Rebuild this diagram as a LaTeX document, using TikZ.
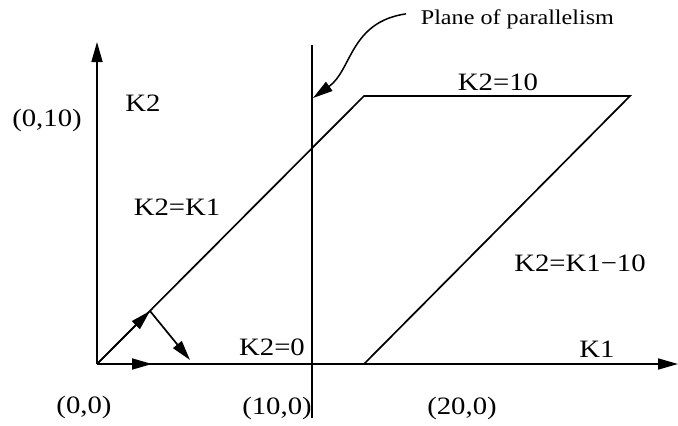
\documentclass[tikz,border=0pt]{standalone}
\usepackage{fontspec}
\setmainfont{Liberation Serif}[FakeStretch=1.15]
\usetikzlibrary{arrows.meta}

\begin{document}
\begin{tikzpicture}[x=1pt,y=-1pt,line width=1.7pt,
    axis/.style={-{Triangle[length=20pt,width=11pt]}},
    lbl/.style={anchor=base,inner sep=0pt,font=\fontsize{25}{30}\selectfont}]
  \useasboundingbox (0,0) rectangle (678,426);
  % corners of the feasible region
  \coordinate (O) at (97,364);
  \coordinate (ytip) at (97,42);
  \coordinate (xtip) at (678,364);
  \coordinate (topleft) at (364,96);
  \coordinate (topright) at (630,96);
  \coordinate (botright) at (364,364);
  \coordinate (vtop) at (312,45);
  \coordinate (vbot) at (312,418);
  \coordinate (hit) at (313,98);
  \coordinate (ex) at (152,364);
  \coordinate (ed) at (150,311);
  \coordinate (en) at (190,360);

  \draw[axis] (O) -- (ytip);
  \draw[axis] (O) -- (xtip);
  \draw (O) -- (topleft) -- (topright) -- (botright);
  \draw (vtop) -- (vbot);
  \draw[axis] (O) -- (ex);
  \draw[axis] (O) -- (ed);
  \draw[axis] (ed) -- (en);

  \node[lbl] (p010) at (47,126) {(0,10)};
  \node[lbl] (k2) at (143,111) {K2};
  \node[lbl] (top) at (498,90) {K2=10};
  \node[lbl] (diag) at (177,215) {K2=K1};
  \node[lbl] (right) at (580,271) {K2=K1−10};
  \node[lbl] (bottom) at (272,355) {K2=0};
  \node[lbl] (k1) at (597,357) {K1};
  \node[lbl] (p00) at (84,413) {(0,0)};
  \node[lbl] (p100) at (277,414) {(10,0)};
  \node[lbl] (p200) at (462,414) {(20,0)};

  \node[anchor=base west,inner sep=0pt,font=\fontsize{21}{25}\selectfont]
    (plane) at (420,24) {Plane of parallelism};
  \draw[axis,line width=1.5pt] ([xshift=-14pt,yshift=5pt]plane.west)
    .. controls (350,22) and (352,70) .. (hit);
\end{tikzpicture}
\end{document}
